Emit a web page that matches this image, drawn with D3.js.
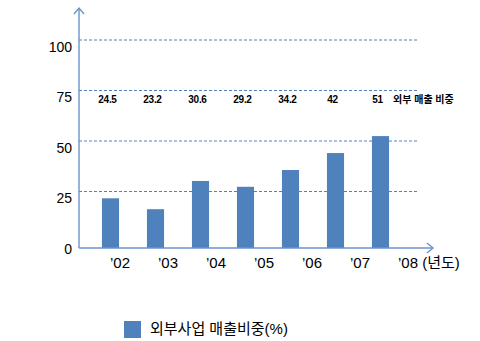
<!DOCTYPE html>
<html><head><meta charset="utf-8">
<script src="https://cdn.jsdelivr.net/npm/d3@7"></script>
<style>
html,body{margin:0;padding:0;background:#fff;}
text{font-family:"Liberation Sans","Noto Sans CJK KR",sans-serif;}
</style></head>
<body><svg id="c" width="480" height="341"></svg>
<script>
const years = ["’02","’03","’04","’05","’06","’07","’08"];
const yearLabels = ["’02","’03","’04","’05","’06","’07","’08 (년도)"];
const barValues = [24.6, 19.2, 33.2, 30.3, 38.6, 47.0, 55.4];
const shareLabels = ["24.5","23.2","30.6","29.2","34.2","42","51"];
const shareTitle = "외부 매출 비중";
const yTicks = [0, 25, 50, 75, 100];
const gridTicks = [25, 50, 75, 100];
const legendLabel = "외부사업 매출비중(%)";

const svg = d3.select("#c");
const blue = "#4F81BD";
const axisBlue = "#6C93CB";

const y = d3.scaleLinear().domain([0, 100]).range([248, 46]);
const xBar = d3.scaleBand().domain(years).range([88, 403]).paddingInner(0.62).paddingOuter(0.31);
const xLab = d3.scaleBand().domain(years).range([95, 431]);

// gridlines (drawn slightly above label positions, as in the reference)
svg.append("g").selectAll("line").data(gridTicks).join("line")
  .attr("x1", 79).attr("x2", 417)
  .attr("y1", d => y(d) - 6).attr("y2", d => y(d) - 6)
  .attr("stroke", blue).attr("stroke-width", 1).attr("stroke-dasharray", "3,2");

// bars
svg.append("g").selectAll("rect").data(barValues).join("rect")
  .attr("x", (d, i) => xBar(years[i]))
  .attr("width", xBar.bandwidth())
  .attr("y", d => y(d))
  .attr("height", d => y(0) - y(d))
  .attr("fill", blue);

// axes with arrows
const axes = svg.append("g").attr("stroke", axisBlue).attr("stroke-width", 1.4).attr("fill", "none");
axes.append("line").attr("x1", 79).attr("x2", 79).attr("y1", y(0)).attr("y2", 8);
axes.append("path").attr("d", "M74,14 L79,8 L84,14");
axes.append("line").attr("x1", 79).attr("x2", 433).attr("y1", y(0)).attr("y2", y(0));
axes.append("path").attr("d", "M427,243 L433,248 L427,253");

// y tick labels
svg.append("g").selectAll("text").data(yTicks).join("text")
  .attr("x", 72).attr("y", d => y(d) + 2)
  .attr("text-anchor", "end").attr("dominant-baseline", "middle")
  .attr("font-size", 14).attr("fill", "#000").text(d => d);

// x labels
svg.append("g").selectAll("text").data(yearLabels).join("text")
  .attr("x", (d, i) => xLab(years[i]) + xLab.bandwidth() / 2 - 9)
  .attr("y", 264).attr("dominant-baseline", "middle")
  .attr("font-size", 15).attr("fill", "#000").text(d => d);

// share labels row
svg.append("g").selectAll("text").data(shareLabels).join("text")
  .attr("x", (d, i) => xBar(years[i]) + xBar.bandwidth() / 2 - 3)
  .attr("y", 100).attr("text-anchor", "middle").attr("dominant-baseline", "middle")
  .attr("font-size", 10).attr("font-weight", "bold").attr("letter-spacing", -0.3)
  .attr("fill", "#000").text(d => d);
svg.append("text").attr("x", 393).attr("y", 100).attr("dominant-baseline", "middle")
  .attr("font-size", 10).attr("font-weight", "bold").attr("fill", "#000").text(shareTitle);

// legend
const lg = svg.append("g");
lg.append("rect").attr("x", 124).attr("y", 321).attr("width", 17).attr("height", 17).attr("fill", blue);
lg.append("text").attr("x", 150).attr("y", 330).attr("dominant-baseline", "middle")
  .attr("font-size", 15).attr("fill", "#000").text(legendLabel);
</script></body></html>
